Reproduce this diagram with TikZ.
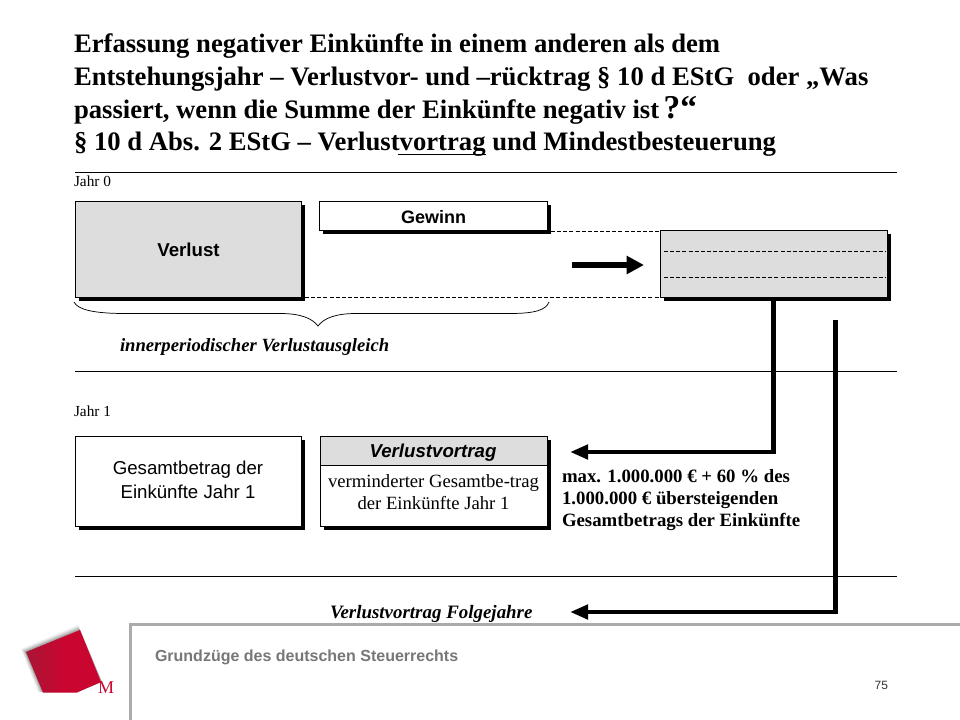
\documentclass[tikz,border=0pt]{standalone}
\usepackage{fontspec}
\setmainfont{Liberation Serif}
\setsansfont{Liberation Sans}
\usetikzlibrary{arrows.meta}
\definecolor{boxgray}{HTML}{DDDDDD}
\definecolor{footgray}{HTML}{ABABAB}
\definecolor{footText}{HTML}{777777}
\definecolor{logored}{HTML}{C8062F}
\definecolor{logodark}{HTML}{A81535}
\tikzset{
  x=0.75pt,y=-0.75pt,
  every node/.style={inner sep=0pt,outer sep=0pt},
  titletext/.style={anchor=base west,font=\fontsize{20}{20}\selectfont\bfseries},
  smalltext/.style={anchor=base west,font=\fontsize{11.5}{11.5}\selectfont},
  sanslabel/.style={font=\sffamily\fontsize{14}{14}\selectfont},
  boldnote/.style={anchor=base west,font=\fontsize{14.1}{14.1}\selectfont\bfseries},
  ruleline/.style={draw=black,line width=0.5pt},
  boxframe/.style={draw=black,line width=0.75pt},
  thinDash/.style={draw=black,line width=0.55pt,dash pattern=on 3pt off 1.6pt},
  thickconn/.style={draw=black,line width=3.5pt,line join=miter,-{Triangle[length=13.5pt,width=10.5pt]}},
}
\newcommand{\shadowbox}[4]{% x1, y1, x2, y2
  \fill[black] (#1+3.5,#2+3.5) rectangle (#3+3.5,#4+3.5);
}
\begin{document}
\begin{tikzpicture}
\useasboundingbox (0,0) rectangle (960,720);
\fill[white] (0,0) rectangle (960,720);
% title
\node[titletext] (t1) at (74,52.5) {Erfassung negativer Einkünfte in einem anderen als dem};
\node[titletext] (t2) at (74,86) {Entstehungsjahr – Verlustvor- und –rücktrag § 10 d EStG\ \ oder „Was};
\node[titletext] (t3) at (74,119) {passiert, wenn die Summe der Einkünfte negativ ist\,{\fontsize{25}{25}\selectfont ?“}};
\node[titletext] (t4) at (74,151) {§ 10 d Abs. 2 EStG – Verlust\rlap{\kern-1.5pt\rule[-2.8pt]{66.5pt}{0.9pt}}vortrag und Mindestbesteuerung};
% rules
\coordinate (r1a) at (75,172.5); \coordinate (r1b) at (897,172.5);
\coordinate (r2a) at (75,371.5); \coordinate (r2b) at (897,371.5);
\coordinate (r3a) at (75,576.5); \coordinate (r3b) at (897,576.5);
\draw[ruleline] (r1a) -- (r1b);
\draw[ruleline] (r2a) -- (r2b);
\draw[ruleline] (r3a) -- (r3b);
\node[smalltext] (j0) at (74,187) {Jahr 0};
\node[smalltext] (j1) at (74,416) {Jahr 1};
% shadows
\shadowbox{75.5}{201.5}{301.5}{297.5}
\shadowbox{319.5}{201.5}{547}{231}
\shadowbox{660.5}{231}{887}{297.5}
\shadowbox{75.5}{436}{301.5}{526}
\shadowbox{320}{436}{547}{526}
% Jahr 0 boxes
\path[boxframe,fill=boxgray] (75.5,201.5) rectangle (301.5,297.5);
\node[sanslabel] (verlust) at (188.5,250) {\bfseries Verlust};
\coordinate (verlustBR) at (305,297.5);
\path[boxframe,fill=white] (319.5,201.5) rectangle (547,231);
\node[sanslabel] (gewinn) at (433.5,217) {\fontsize{13.5}{13.5}\selectfont\bfseries Gewinn};
\coordinate (gewinnBR) at (551,231);
\path[boxframe,fill=boxgray] (660.5,231) rectangle (887,297.5);
\coordinate (ergTL) at (660.5,231);
\coordinate (ergBL) at (660.5,297.5);
\coordinate (d1a) at (664,251); \coordinate (d1b) at (886,251);
\coordinate (d2a) at (664,277); \coordinate (d2b) at (886,277);
\draw[thinDash] (d1a) -- (d1b);
\draw[thinDash] (d2a) -- (d2b);
\draw[thinDash] (gewinnBR) -- (ergTL);
\draw[thinDash] (verlustBR) -- (ergBL);
% block arrow
\coordinate (ba) at (572,265); \coordinate (bb) at (644,265);
\draw[draw=black,line width=4pt,-{Triangle[length=13pt,width=13pt]}] (ba) -- (bb);
% brace
\coordinate (bl) at (74,302); \coordinate (br) at (549,302); \coordinate (btip) at (318,326);
\draw[black,line width=0.55pt] (bl) .. controls (78,310) and (95,313.5) .. (125,313.5)
  -- (280,313.5) .. controls (300,313.5) and (312,318) .. (btip)
  .. controls (324,318) and (336,313.5) .. (356,313.5)
  -- (510,313.5) .. controls (535,313.5) and (546,310) .. (br);
\node[anchor=base west,font=\fontsize{14}{14}\selectfont\bfseries\itshape] (inner) at (120,351) {innerperiodischer Verlustausgleich};
% Jahr 1 boxes
\path[boxframe,fill=white] (75.5,436) rectangle (301.5,526);
\node[align=center,font=\sffamily\fontsize{14}{18}\selectfont] (gesamt) at (188,480) {Gesamtbetrag der\\Einkünfte Jahr 1};
\path[boxframe,fill=white] (320,436) rectangle (547,526);
\path[boxframe,fill=boxgray] (320,436) rectangle (547,465);
\node[sanslabel] (vv) at (433,452.5) {\bfseries\itshape Verlustvortrag};
\node[align=center,font=\fontsize{14}{17}\selectfont] (vermind) at (433.5,492) {verminderter Gesamtbe-trag\\der Einkünfte Jahr 1};
\coordinate (vvTarget) at (570,452);
\coordinate (fjTarget) at (570,612);
\node[boldnote] (n1) at (562,482) {max. 1.000.000 € + 60 \% des};
\node[boldnote] (n2) at (562,504) {1.000.000 € übersteigenden};
\node[boldnote] (n3) at (562,526) {Gesamtbetrags der Einkünfte};
\node[anchor=base west,font=\fontsize{14.2}{14.2}\selectfont\bfseries\itshape] (folge) at (330,618) {Verlustvortrag Folgejahre};
% connectors
\coordinate (c1s) at (773.5,300); \coordinate (c1k) at (773.5,452);
\coordinate (c2s) at (835.5,320); \coordinate (c2k) at (835.5,612);
\draw[thickconn] (c1s) -- (c1k) -- (vvTarget);
\draw[thickconn] (c2s) -- (c2k) -- (fjTarget);
% footer
\coordinate (f0) at (130.5,720); \coordinate (f1) at (130.5,624.5); \coordinate (f2) at (960,624.5);
\draw[footgray,line width=2.3pt,line join=miter] (f0) -- (f1) -- (f2);
\node[anchor=base west,font=\sffamily\bfseries\fontsize{12}{12}\selectfont,text=footText] (ft) at (155,661) {Grundzüge des deutschen Steuerrechts};
\node[anchor=base east,font=\sffamily\fontsize{9}{9}\selectfont,text=black!80] (pg) at (888,689) {75};
% logo
\foreach \o/\a in {5/0.05,4/0.06,3/0.08,2/0.1,1/0.12}{
  \fill[black,opacity=\a] (26-\o,652-\o*0.6) -- (80-\o*0.4,630-\o) -- (102,682) -- (77,692) -- (43-\o,692) -- cycle;
}
\shade[left color=logodark,right color=logored,middle color=logored]
  (26,652) -- (80,630) -- (101,682) -- (77,692.5) -- (43,692.5) -- cycle;
\node[anchor=base west,text=logored,font=\fontsize{13.5}{13.5}\selectfont] (logoM) at (98,693) {M};
\end{tikzpicture}
\end{document}
